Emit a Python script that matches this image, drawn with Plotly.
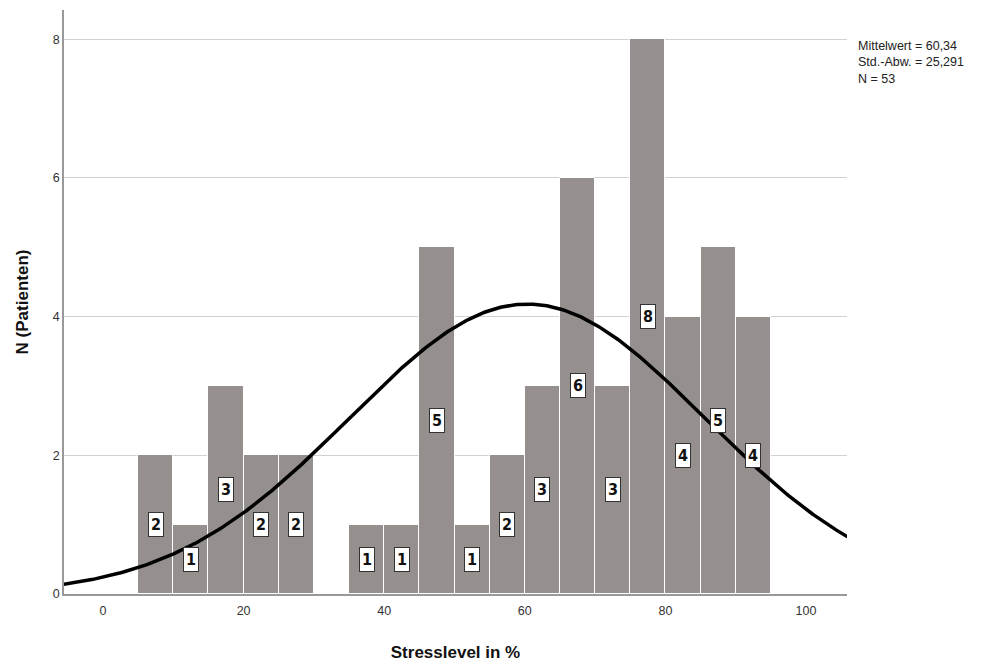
import numpy as np
import plotly.graph_objects as go

bin_starts = [5, 10, 15, 20, 25, 30, 35, 40, 45, 50, 55, 60, 65, 70, 75, 80, 85, 90]
counts = [2, 1, 3, 2, 2, 0, 1, 1, 5, 1, 2, 3, 6, 3, 8, 4, 5, 4]
bin_width = 5
mean_val = 60.34
std_val = 25.291
n_total = 53
x_ticks = [0, 20, 40, 60, 80, 100]
y_ticks = [0, 2, 4, 6, 8]

centers = [b + bin_width / 2 for b in bin_starts]

fig = go.Figure()
fig.add_trace(go.Bar(
    x=centers, y=counts, width=bin_width,
    marker=dict(color="#958f8e", line=dict(color="white", width=1)),
    hoverinfo="x+y", showlegend=False,
))

xs = np.linspace(-5.6, 105.9, 400)
ys = n_total * bin_width / (std_val * np.sqrt(2 * np.pi)) * np.exp(-0.5 * ((xs - mean_val) / std_val) ** 2)
fig.add_trace(go.Scatter(x=xs, y=ys, mode="lines", line=dict(color="black", width=3.5),
                         showlegend=False, hoverinfo="skip"))

for c, v in zip(centers, counts):
    if v > 0:
        fig.add_annotation(x=c, y=v / 2, text=f"<b>{v}</b>", showarrow=False,
                           font=dict(family="DejaVu Sans Condensed, Liberation Sans Narrow, Arial", size=16, color="#111"),
                           bgcolor="white", bordercolor="#333", borderwidth=1, borderpad=2)

fig.add_annotation(xref="paper", yref="paper", x=1.011, y=0.953, xanchor="left", yanchor="top",
                   align="left", showarrow=False,
                   text=f"Mittelwert = {str(mean_val).replace('.', ',')}<br>Std.-Abw. = {str(std_val).replace('.', ',')}<br>N = {n_total}",
                   font=dict(family="Arial, Liberation Sans", size=12.5, color="#222"))

fig.update_layout(
    width=979, height=654,
    margin=dict(l=56, r=140, t=2, b=68),
    plot_bgcolor="white", paper_bgcolor="white",
    bargap=0,
    font=dict(family="Arial, Liberation Sans", size=12, color="#333"),
    xaxis=dict(range=[-5.55, 105.83], tickvals=x_ticks, showgrid=False, zeroline=False,
               showline=True, linecolor="#999", linewidth=1.5, ticks="",
               title=dict(text="<b>Stresslevel in %</b>", font=dict(size=17, color="#111"), standoff=31),
               tickfont=dict(size=12.5, color="#333"), ticklabelstandoff=4),
    yaxis=dict(range=[0, 8.42], tickvals=y_ticks, showgrid=True, gridcolor="#d0d0d0", gridwidth=1,
               zeroline=False, showline=True, linecolor="#999", linewidth=1.5, ticks="",
               title=dict(text="<b>N (Patienten)</b>", font=dict(size=17, color="#111"), standoff=20),
               tickfont=dict(size=12.5, color="#333")),
)

fig.write_html("out.html")
